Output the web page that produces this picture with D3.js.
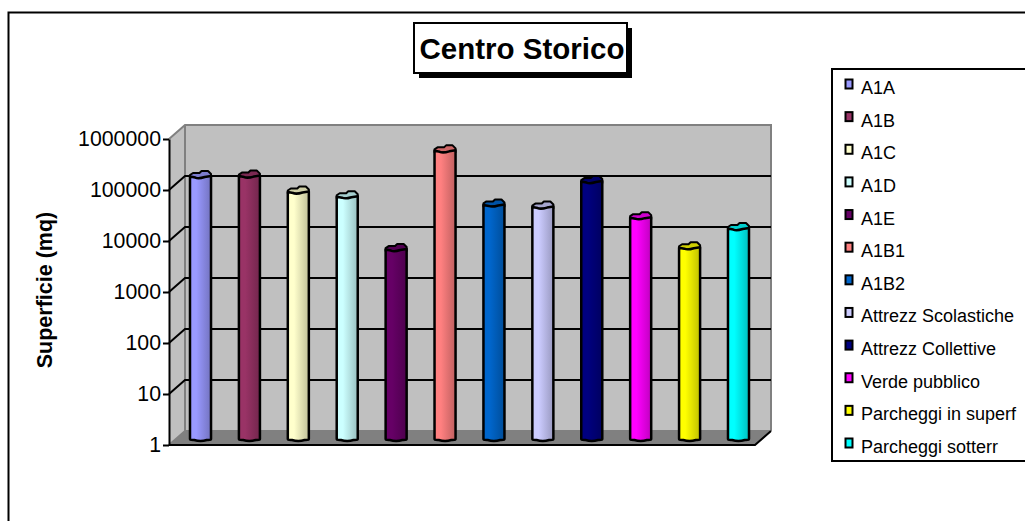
<!DOCTYPE html>
<html><head><meta charset="utf-8">
<script src="https://cdn.jsdelivr.net/npm/d3@7"></script>
<style>html,body{margin:0;padding:0;background:#fff}svg{display:block}text{font-family:"Liberation Sans",Arial,sans-serif;fill:#000}</style>
</head><body><div id="c"></div>
<script>
const categories=["A1A","A1B","A1C","A1D","A1E","A1B1","A1B2","Attrezz Scolastiche","Attrezz Collettive","Verde pubblico","Parcheggi in superf","Parcheggi sotterr"];
const values=[157000,160000,78000,63000,5800,500000,43500,39500,125000,24500,6300,15000];
const colors=["#9999FF","#993366","#FFFFCC","#CCFFFF","#660066","#FF8080","#0066CC","#CCCCFF","#000080","#FF00FF","#FFFF00","#00FFFF"];
const tickValues=[1,10,100,1000,10000,100000,1000000];
const titleText="Centro Storico", yTitle="Superficie (mq)";

const W=1025,H=521;
const svg=d3.select("#c").append("svg").attr("width",W).attr("height",H);
const defs=svg.append("defs");
colors.forEach((c,i)=>{
  const g=defs.append("linearGradient").attr("id","g"+i);
  g.append("stop").attr("offset","0%").attr("stop-color",c);
  g.append("stop").attr("offset","30%").attr("stop-color",c);
  g.append("stop").attr("offset","100%").attr("stop-color",d3.color(c).darker(0.8).formatHex());
});
// chart frame
svg.append("path").attr("d",`M8.5,${H}V12.5H${W}`).attr("fill","none").attr("stroke","#000").attr("stroke-width",2);

// 3D geometry
const DX=16,DY=-14;
const yFront=d3.scaleLog().domain([1,1e6]).range([445,139]);
const xFront=d3.scaleLinear().domain([0,1]).range([169,755]);
const x=d3.scaleBand().domain(categories).range([174,765]).paddingInner(0.57).paddingOuter(0.327);
const yBar=v=>yFront(v)-5;
const x0=xFront(0),x1=xFront(1),yb=yFront(1),yt=yFront(1e6);
svg.append("rect").attr("x",x0+DX).attr("y",yt+DY).attr("width",x1-x0).attr("height",yb-yt).attr("fill","#C0C0C0");
svg.append("path").attr("d",`M${x0},${yt}L${x0+DX},${yt+DY}V${yb+DY}L${x0},${yb}Z`).attr("fill","#C0C0C0");
svg.append("path").attr("d",`M${x0},${yb}L${x0+DX},${yb+DY}H${x1+DX}L${x1},${yb}Z`).attr("fill","#808080");
svg.append("path").attr("fill","none").attr("stroke","#808080").attr("stroke-width",2)
  .attr("d",`M${x0},${yb}L${x0+DX},${yb+DY}M${x0},${yt}L${x0+DX},${yt+DY}H${x1+DX}V${yb+DY}M${x0+DX},${yt+DY}V${yb+DY}H${x1+DX}`);
tickValues.slice(1,-1).forEach(v=>{
  svg.append("path").attr("fill","none").attr("stroke","#000").attr("stroke-width",2)
    .attr("d",`M${x0},${yFront(v)}L${x0+DX},${yFront(v)+DY}H${x1+DX}`);
});
svg.append("path").attr("fill","none").attr("stroke","#000").attr("stroke-width",2)
  .attr("d",`M${x1+DX},${yb+DY}L${x1},${yb}H${x0}`);
const ax=svg.append("g").attr("transform",`translate(${x0},0)`)
  .call(d3.axisLeft(yFront).tickValues(tickValues).tickFormat(d3.format("d")).tickSizeOuter(0).tickSizeInner(6).tickPadding(2));
ax.selectAll("path,line").attr("stroke","#000").attr("stroke-width",2);
ax.selectAll("text").style("font-size","21.3px").style("font-family",'"Liberation Sans",Arial,sans-serif');
// bars
const bars=svg.append("g").selectAll("g").data(categories).join("g");
bars.each(function(c,i){
  const g=d3.select(this),l=x(c),w=x.bandwidth(),r=l+w,t=yBar(values[i]),b=yBar(1),e=3;
  g.append("path").attr("fill",d3.color(colors[i]).darker(0.6).formatHex()).attr("stroke","#000").attr("stroke-width",2)
   .attr("stroke-linejoin","round")
   .attr("d",`M${l},${t}L${l+3},${t-2}H${l+w*0.45}L${l+w*0.55},${t-e-1}H${r-3}L${r},${t-1}V${t+3}H${l}Z`);
  g.append("path").attr("fill",`url(#g${i})`).attr("stroke","#000").attr("stroke-width",2.5)
   .attr("stroke-linejoin","round")
   .attr("d",`M${l},${t+1.5}V${b-1}Q${l},${b} ${l+3},${b}H${l+w*0.2}Q${l+w*0.5},${b+e*0.7} ${l+w*0.8},${b}H${r-3}Q${r},${b} ${r},${b-1}V${t+1}L${l+w*0.7},${t+2}Q${l+w*0.4},${t+4} ${l+w*0.25},${t+2.5}Z`);
});
svg.append("text").attr("transform","translate(52,290) rotate(-90)").attr("text-anchor","middle")
  .style("font-size","21.5px").style("font-weight","bold").text(yTitle);
// title
svg.append("rect").attr("x",419).attr("y",28).attr("width",213).attr("height",50).attr("fill","#000");
svg.append("rect").attr("x",414).attr("y",23).attr("width",213).attr("height",50).attr("fill","#fff").attr("stroke","#000").attr("stroke-width",2);
svg.append("text").attr("x",522).attr("y",59).attr("text-anchor","middle").style("font-size","29.5px").style("font-weight","bold").text(titleText);
// legend
svg.append("rect").attr("x",832).attr("y",69).attr("width",200).attr("height",392).attr("fill","#fff").attr("stroke","#000").attr("stroke-width",2);
const ly=d3.scalePoint().domain(categories).range([87.5,446.5]);
const lg=svg.append("g").selectAll("g").data(categories).join("g").attr("transform",c=>`translate(0,${ly(c)})`);
lg.append("rect").attr("x",845.5).attr("y",-8).attr("width",7).attr("height",9).attr("fill",(c,i)=>colors[i]).attr("stroke","#000").attr("stroke-width",2);
lg.append("text").attr("x",861).attr("y",6.5).style("font-size","18px").text(c=>c);
</script></body></html>
